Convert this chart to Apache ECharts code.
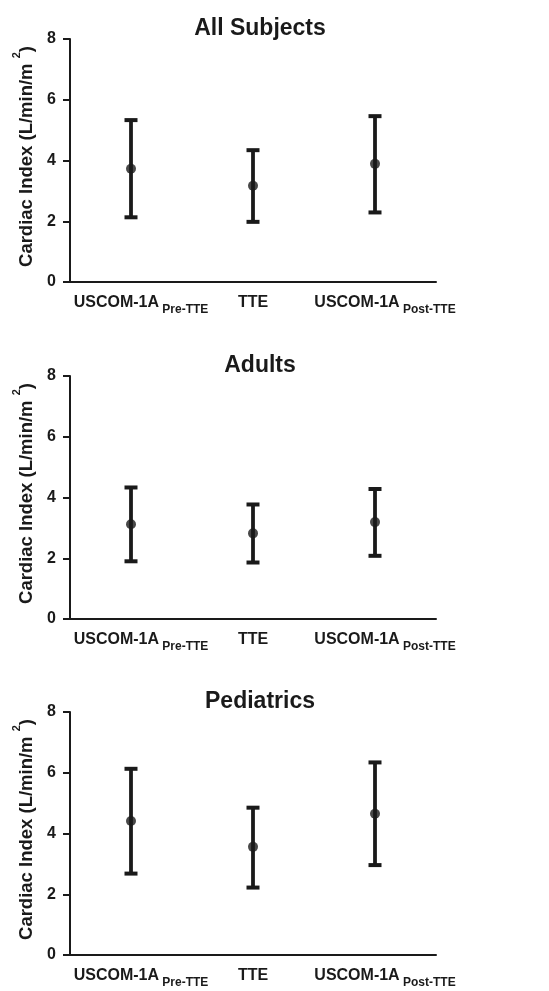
<!DOCTYPE html>
<html>
<head>
<meta charset="utf-8">
<script src="https://cdn.jsdelivr.net/npm/echarts@6/dist/echarts.min.js"></script>
<style>
html,body{margin:0;padding:0;background:#fff;}
#chart{width:549px;height:991px;}
</style>
</head>
<body>
<div id="chart"></div>
<script>
// ---- data ----
var categoryMain = ['USCOM-1A', 'TTE', 'USCOM-1A'];
var categorySub = ['Pre-TTE', '', 'Post-TTE'];
var categories = categoryMain.map(function (m, i) { return categorySub[i] ? m + ' ' + categorySub[i] : m; });

var panelTitles = ['All Subjects', 'Adults', 'Pediatrics'];

var allMean = [3.73, 3.17, 3.89];
var allLow  = [2.13, 1.98, 2.29];
var allHigh = [5.33, 4.34, 5.46];

var adultMean = [3.12, 2.82, 3.19];
var adultLow  = [1.90, 1.86, 2.08];
var adultHigh = [4.33, 3.77, 4.28];

var pedMean = [4.41, 3.56, 4.65];
var pedLow  = [2.68, 2.22, 2.96];
var pedHigh = [6.13, 4.85, 6.34];

var yTicks = [0, 2, 4, 6, 8];

// ---- chart ----
var INK = '#1a1a1a';
var FONT = 'Liberation Sans, Arial, Helvetica, sans-serif';
var panels = [
  { mean: allMean, low: allLow, high: allHigh },
  { mean: adultMean, low: adultLow, high: adultHigh },
  { mean: pedMean, low: pedLow, high: pedHigh }
];
var tops = [39, 376, 712];

var option = {
  animation: false,
  backgroundColor: '#fff',
  title: [], grid: [], xAxis: [], yAxis: [], series: []
};

panels.forEach(function (p, k) {
  option.title.push({
    text: panelTitles[k],
    left: 255, top: tops[k] - 27, textAlign: 'center',
    textStyle: { fontFamily: FONT, fontWeight: 'bold', fontSize: 23, color: INK }
  });
  option.grid.push({ left: 70, top: tops[k], width: 366, height: 243 });
  option.xAxis.push({
    type: 'category', gridIndex: k, data: categories,
    axisLine: { lineStyle: { color: INK, width: 2 } },
    axisTick: { alignWithLabel: true, length: 6, lineStyle: { color: INK, width: 2 } },
    splitLine: { show: false },
    axisLabel: {
      margin: 13, interval: 0,
      formatter: function (v, i) {
        return categorySub[i] ? '{m|' + categoryMain[i] + '}{s| ' + categorySub[i] + '}' : '{t|' + categoryMain[i] + '}';
      },
      rich: {
        m: { fontFamily: FONT, fontWeight: 'bold', fontSize: 16, lineHeight: 16, verticalAlign: 'top', color: INK, padding: [0, 0, 0, 20] },
        s: { fontFamily: FONT, fontWeight: 'bold', fontSize: 12, lineHeight: 21, verticalAlign: 'bottom', color: INK },
        t: { fontFamily: FONT, fontWeight: 'bold', fontSize: 16, lineHeight: 16, verticalAlign: 'top', color: INK }
      }
    }
  });
  option.yAxis.push({
    type: 'value', gridIndex: k, min: yTicks[0], max: yTicks[yTicks.length - 1], interval: yTicks[1] - yTicks[0],
    axisLine: { show: true, lineStyle: { color: INK, width: 2 } },
    axisTick: { show: true, length: 7, lineStyle: { color: INK, width: 2 } },
    splitLine: { show: false },
    axisLabel: { margin: 14, fontFamily: FONT, fontWeight: 'bold', fontSize: 16, color: INK },
    name: '{b|Cardiac Index (L/min/m }{s|2}{a|)}',
    nameLocation: 'middle', nameGap: 33,
    nameTextStyle: {
      rich: {
        b: { fontFamily: FONT, fontWeight: 'bold', fontSize: 18.5, lineHeight: 25, verticalAlign: 'bottom', color: INK, padding: [0, 0, 0, 8] },
        a: { fontFamily: FONT, fontWeight: 'bold', fontSize: 18.5, lineHeight: 25, verticalAlign: 'bottom', color: INK },
        s: { fontFamily: FONT, fontWeight: 'bold', fontSize: 11, lineHeight: 11, verticalAlign: 'top', color: INK }
      }
    }
  });
  option.series.push({
    type: 'custom', xAxisIndex: k, yAxisIndex: k,
    data: p.low.map(function (lo, i) { return [i, lo, p.high[i]]; }),
    encode: { x: 0, y: [1, 2] },
    renderItem: function (params, api) {
      var x = api.value(0);
      var a = api.coord([x, api.value(1)]);
      var b = api.coord([x, api.value(2)]);
      var hw = 6.5;
      var st = { stroke: INK, lineWidth: 3.8 };
      var cs = { stroke: INK, lineWidth: 4 };
      return {
        type: 'group',
        children: [
          { type: 'line', shape: { x1: a[0], y1: a[1], x2: b[0], y2: b[1] }, style: st },
          { type: 'line', shape: { x1: a[0] - hw, y1: a[1], x2: a[0] + hw, y2: a[1] }, style: cs },
          { type: 'line', shape: { x1: b[0] - hw, y1: b[1], x2: b[0] + hw, y2: b[1] }, style: cs }
        ]
      };
    },
    z: 2
  });
  option.series.push({
    type: 'scatter', xAxisIndex: k, yAxisIndex: k,
    data: p.mean.map(function (m, i) { return [i, m]; }),
    symbol: 'circle', symbolSize: 10,
    itemStyle: { color: INK },
    z: 3
  });
});

var chart = echarts.init(document.getElementById('chart'), null, { renderer: 'canvas' });
chart.setOption(option);
</script>
</body>
</html>
